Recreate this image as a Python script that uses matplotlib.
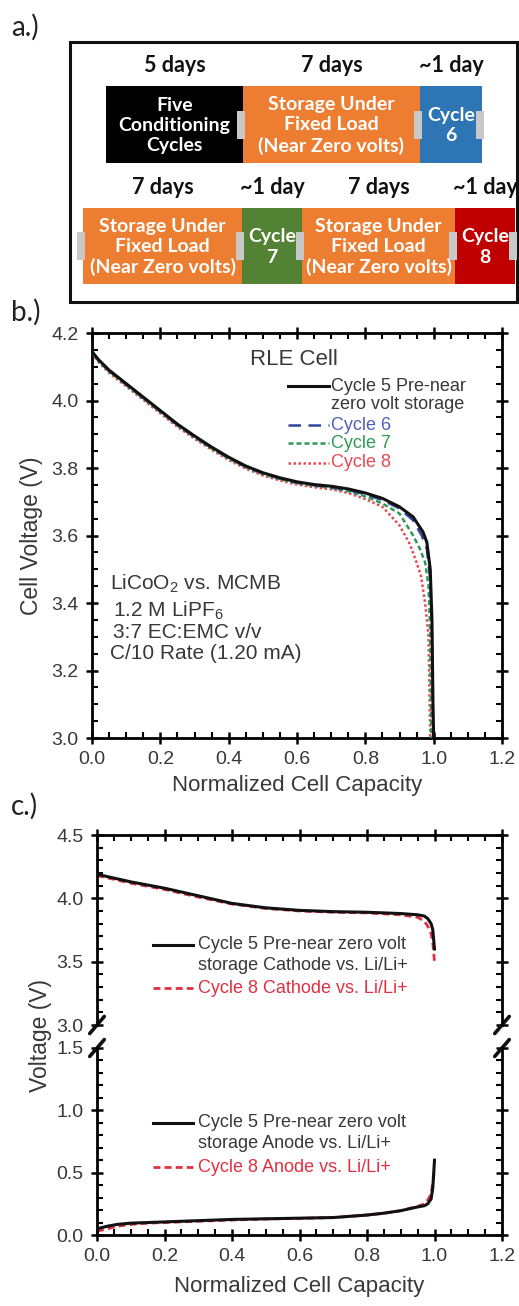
import matplotlib
matplotlib.use('Agg')
import matplotlib.pyplot as plt
from matplotlib.patches import Rectangle
from matplotlib.ticker import MultipleLocator, FormatStrFormatter

plt.rcParams['font.family'] = ['Liberation Sans', 'DejaVu Sans']
plt.rcParams['mathtext.fontset'] = 'custom'
plt.rcParams['mathtext.rm'] = 'Liberation Sans'

# ---------------- data ----------------
# Panel a: test protocol
row1_durations = ['5 days', '7 days', '~1 day']
row1_stages = ['Five\nConditioning\nCycles', 'Storage Under\nFixed Load\n(Near Zero volts)', 'Cycle\n6']
row1_colors = ['#000000', '#ED7D31', '#2E75B6']
row2_durations = ['7 days', '~1 day', '7 days', '~1 day']
row2_stages = ['Storage Under\nFixed Load\n(Near Zero volts)', 'Cycle\n7',
               'Storage Under\nFixed Load\n(Near Zero volts)', 'Cycle\n8']
row2_colors = ['#ED7D31', '#548235', '#ED7D31', '#C00000']

# Panel b: full cell discharge curves
cap_head = [0, 0.02, 0.05, 0.1, 0.15, 0.2, 0.25, 0.3, 0.35, 0.4, 0.45, 0.5,
            0.55, 0.6, 0.65, 0.7, 0.75, 0.8, 0.85]
cap_c5 = cap_head + [0.9, 0.94, 0.969, 0.98, 0.99, 0.995, 0.998, 1.0]
v_c5 = [4.145, 4.12, 4.09, 4.05, 4.01, 3.97, 3.93, 3.895, 3.862, 3.832, 3.806, 3.786,
        3.771, 3.759, 3.751, 3.746, 3.738, 3.726, 3.71,
        3.685, 3.655, 3.61, 3.58, 3.5, 3.35, 3.1, 3.0]
cap_c6 = cap_head + [0.9, 0.94, 0.965, 0.98, 0.99, 0.995, 0.998, 0.999]
v_c6 = [4.143, 4.118, 4.088, 4.048, 4.008, 3.968, 3.928, 3.893, 3.86, 3.83, 3.804, 3.784,
        3.769, 3.757, 3.749, 3.743, 3.735, 3.722, 3.705,
        3.68, 3.645, 3.60, 3.56, 3.47, 3.3, 3.05, 3.0]
cap_c7 = cap_head + [0.9, 0.94, 0.96, 0.975, 0.985, 0.99, 0.993]
v_c7 = [4.142, 4.116, 4.086, 4.046, 4.006, 3.966, 3.926, 3.891, 3.858, 3.828, 3.802, 3.782,
        3.767, 3.755, 3.747, 3.741, 3.731, 3.716, 3.695,
        3.665, 3.60, 3.56, 3.52, 3.45, 3.3, 3.0]
cap_c8 = cap_head + [0.9, 0.93, 0.95, 0.963, 0.975, 0.985, 0.99]
v_c8 = [4.14, 4.113, 4.082, 4.042, 4.002, 3.962, 3.922, 3.887, 3.854, 3.824, 3.798, 3.778,
        3.763, 3.751, 3.743, 3.737, 3.726, 3.708, 3.685,
        3.63, 3.575, 3.52, 3.48, 3.40, 3.30, 3.0]

# Panel c: half-cell potentials
cap_cath = [0, 0.05, 0.1, 0.2, 0.3, 0.4, 0.5, 0.6, 0.7, 0.8, 0.9, 0.95, 0.97, 0.98, 0.99, 0.995, 1.0]
v_cath_c5 = [4.19, 4.16, 4.13, 4.08, 4.02, 3.96, 3.925, 3.905, 3.895, 3.89, 3.88, 3.87, 3.86, 3.84, 3.80, 3.75, 3.60]
v_cath_c8 = [4.18, 4.15, 4.12, 4.07, 4.01, 3.955, 3.92, 3.90, 3.89, 3.885, 3.87, 3.85, 3.82, 3.78, 3.72, 3.65, 3.50]
cap_an = [0, 0.03, 0.06, 0.1, 0.15, 0.2, 0.3, 0.4, 0.5, 0.6, 0.7, 0.8, 0.85, 0.9, 0.95, 0.97, 0.98, 0.99, 0.995, 1.0]
v_an_c5 = [0.05, 0.07, 0.085, 0.095, 0.10, 0.105, 0.115, 0.125, 0.13, 0.135, 0.14, 0.16, 0.175,
           0.195, 0.225, 0.235, 0.25, 0.29, 0.38, 0.60]
v_an_c8 = [0.03, 0.05, 0.07, 0.085, 0.095, 0.10, 0.11, 0.12, 0.128, 0.133, 0.14, 0.16, 0.175,
           0.195, 0.23, 0.25, 0.28, 0.33, 0.42, 0.52]

# ---------------- figure ----------------
W, H = 519, 1306
fig = plt.figure(figsize=(W / 100, H / 100), dpi=100)
TXT = '#383838'
SPW = 2.0
RED = '#E03040'


def fx(px):
    return px / W


def fy(py):
    return 1 - py / H


def style_axes(ax, ymin_step, ymaj_step):
    for s in ax.spines.values():
        s.set_linewidth(SPW)
    ax.xaxis.set_major_locator(MultipleLocator(0.2))
    ax.xaxis.set_minor_locator(MultipleLocator(0.05))
    ax.yaxis.set_major_locator(MultipleLocator(ymaj_step))
    ax.yaxis.set_minor_locator(MultipleLocator(ymin_step))
    ax.tick_params(which='major', direction='inout', length=9, width=1.8, pad=5,
                   labelsize=14, labelcolor=TXT, top=True, right=True)
    ax.tick_params(which='minor', direction='in', length=4, width=1.5, top=True, right=True)
    ax.xaxis.set_major_formatter(FormatStrFormatter('%.1f'))
    ax.yaxis.set_major_formatter(FormatStrFormatter('%.1f'))


# ---------- panel a (diagram) ----------
axa = fig.add_axes([0, 0, 1, 1])
axa.set_xlim(0, W)
axa.set_ylim(H, 0)
axa.axis('off')
axa.set_zorder(-1)
axa.add_patch(Rectangle((70, 42), 447, 260, fill=False, lw=2.2, ec='#111111'))
for lab, yy in [('a.)', 27), ('b.)', 312), ('c.)', 806)]:
    axa.text(11, yy, lab, fontsize=20, family='Lato', va='center', ha='left', color='#222222')

row1_edges = [106, 243, 420, 482]
row2_edges = [83, 242, 302, 455, 515]


def draw_row(edges, stages, colors, durs, y0, y1, ylab, lead_tab):
    for i, (st, c, d) in enumerate(zip(stages, colors, durs)):
        xa, xb = edges[i], edges[i + 1]
        axa.add_patch(Rectangle((xa, y0), xb - xa, y1 - y0, fc=c, ec='none'))
        axa.text((xa + xb) / 2, (y0 + y1) / 2 + 1, st, color='white', fontsize=14,
                 family='Lato', fontweight='bold', ha='center', va='center', linespacing=1.22)
        axa.text((xa + xb) / 2, ylab, d, color='#111111', fontsize=15.5, family='Lato',
                 fontweight='bold', ha='center', va='center')
    tabs = list(edges[1:])
    if lead_tab:
        tabs = [edges[0]] + tabs
    ym = (y0 + y1) / 2
    for t in tabs:
        axa.add_patch(Rectangle((t - 6, ym - 14), 8, 28, fc='#C8C8C8', ec='none', zorder=3))


draw_row(row1_edges, row1_stages, row1_colors, row1_durations, 86, 163, 66, False)
draw_row(row2_edges, row2_stages, row2_colors, row2_durations, 208, 284, 188, True)

# ---------- panel b ----------
axb = fig.add_axes([fx(92), fy(738), fx(502) - fx(92), fy(333) - fy(738)])
axb.plot(cap_c5, v_c5, color='#111111', lw=2.2, zorder=5)
axb.plot(cap_c6, v_c6, color='#33449A', lw=1.8, dashes=(5, 3), zorder=4)
axb.plot(cap_c7, v_c7, color='#2E9A55', lw=1.8, dashes=(2, 1.2), zorder=3)
axb.plot(cap_c8, v_c8, color='#E84850', lw=1.8, dashes=(1, 1), zorder=2)
axb.set_xlim(0, 1.2)
axb.set_ylim(3.0, 4.2)
style_axes(axb, 0.05, 0.2)
axb.set_xlabel('Normalized Cell Capacity', fontsize=16, color=TXT, labelpad=5)
axb.set_ylabel('Cell Voltage (V)', fontsize=16.5, color=TXT, labelpad=6)
axb.text(0.59, 4.122, 'RLE Cell', fontsize=16, color=TXT, ha='center', va='center')

leg_b = [('Cycle 6', '#33449A', '#5060B8', (5, 3), 3.927),
         ('Cycle 7', '#2E9A55', '#2E9A55', (2, 1.2), 3.874),
         ('Cycle 8', '#E84850', '#E84850', (1, 1), 3.815)]
axb.plot([0.575, 0.695], [4.042, 4.042], color='#111111', lw=2.2)
axb.text(0.70, 4.042, 'Cycle 5 Pre-near', fontsize=13, color=TXT, ha='left', va='center')
axb.text(0.70, 3.987, 'zero volt storage', fontsize=13, color=TXT, ha='left', va='center')
for lab, lc, tc, ds, yy in leg_b:
    axb.plot([0.575, 0.695], [yy, yy], color=lc, lw=1.8, dashes=ds)
    axb.text(0.70, yy, lab, fontsize=13, color=tc, ha='left', va='center')

info = [('LiCoO$_2$ vs. MCMB', 0.052, 3.458), ('1.2 M LiPF$_6$', 0.062, 3.376),
        ('3:7 EC:EMC v/v', 0.062, 3.312), ('C/10 Rate (1.20 mA)', 0.052, 3.249)]
for t, xx, yy in info:
    axb.text(xx, yy, t, fontsize=15, color=TXT, ha='left', va='center')

# ---------- panel c ----------
axc1 = fig.add_axes([fx(97), fy(1025), fx(502) - fx(97), fy(835) - fy(1025)])
axc2 = fig.add_axes([fx(97), fy(1235), fx(502) - fx(97), fy(1048) - fy(1235)])
axc1.plot(cap_cath, v_cath_c5, color='#111111', lw=2.2, zorder=3)
axc1.plot(cap_cath, v_cath_c8, color=RED, lw=2.0, dashes=(2.5, 1.5), zorder=2)
axc2.plot(cap_an, v_an_c5, color='#111111', lw=2.2, zorder=3)
axc2.plot(cap_an, v_an_c8, color=RED, lw=2.0, dashes=(2.5, 1.5), zorder=2)
for ax, lo, hi in [(axc1, 3.0, 4.5), (axc2, 0.0, 1.5)]:
    ax.set_xlim(0, 1.2)
    ax.set_ylim(lo, hi)
    style_axes(ax, 0.1, 0.5)
axc1.spines['bottom'].set_visible(False)
axc2.spines['top'].set_visible(False)
axc1.tick_params(which='both', bottom=False, labelbottom=False)
axc2.tick_params(which='both', top=False)
axc2.set_xlabel('Normalized Cell Capacity', fontsize=16, color=TXT, labelpad=8)
fig.text(fx(40), fy(1035), 'Voltage (V)', rotation=90, fontsize=16.5, color=TXT,
         ha='center', va='center')

# break marks
for ax, y in [(axc1, 0.0), (axc2, 1.0)]:
    for x in (0.0, 1.0):
        ax.plot([x - 0.018, x + 0.018], [y - 0.045, y + 0.045], transform=ax.transAxes,
                color='#111111', lw=2.6, clip_on=False, solid_capstyle='round')

leg_c = [(axc1, 'Cycle 5 Pre-near zero volt', 'storage Cathode vs. Li/Li+', 'Cycle 8 Cathode vs. Li/Li+',
          3.632, 3.466, 3.29),
         (axc2, 'Cycle 5 Pre-near zero volt', 'storage Anode vs. Li/Li+', 'Cycle 8 Anode vs. Li/Li+',
          0.902, 0.734, 0.543)]
for ax, l1, l1b, l2, y1, y1b, y2 in leg_c:
    ax.plot([0.166, 0.283], [y1, y1], color='#111111', lw=2.2)
    ax.text(0.298, y1, l1, fontsize=13, color=TXT, ha='left', va='center')
    ax.text(0.298, y1b, l1b, fontsize=13, color=TXT, ha='left', va='center')
    ax.plot([0.166, 0.283], [y2, y2], color=RED, lw=2.0, dashes=(2.5, 1.5))
    ax.text(0.298, y2, l2, fontsize=13, color=RED, ha='left', va='center')

fig.savefig('out.png', dpi=100)
